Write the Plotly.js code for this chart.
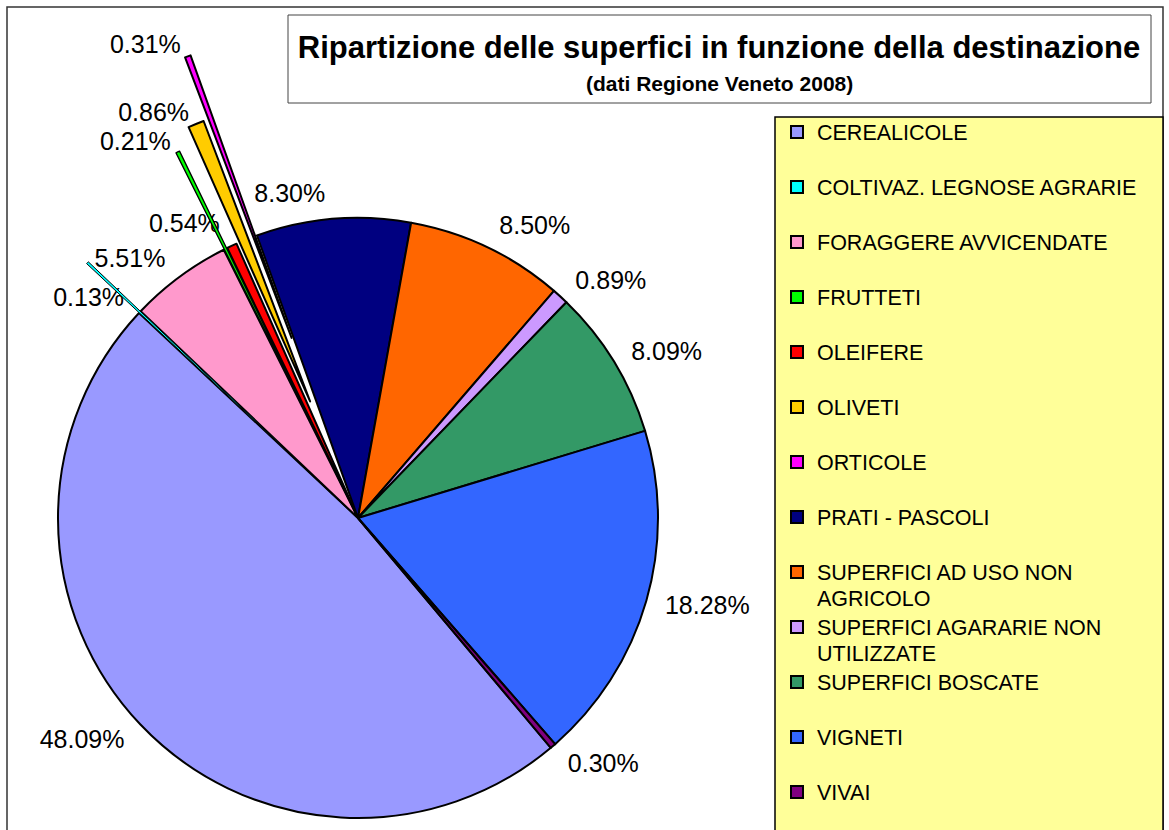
<!DOCTYPE html>
<html><head><meta charset="utf-8">
<script src="https://cdn.plot.ly/plotly-3.0.1.min.js"></script>
<style>
html,body{margin:0;padding:0;overflow:hidden;background:#fff;width:1169px;height:830px}
#chart{position:absolute;left:-40px;top:-40px;width:1249px;height:910px}
</style>
</head><body><div id="chart"></div>
<script>
// ---- data ----
const categories = [
  'CEREALICOLE',
  'COLTIVAZ. LEGNOSE AGRARIE',
  'FORAGGERE AVVICENDATE',
  'FRUTTETI',
  'OLEIFERE',
  'OLIVETI',
  'ORTICOLE',
  'PRATI - PASCOLI',
  'SUPERFICI AD USO NON<br>AGRICOLO',
  'SUPERFICI AGARARIE NON<br>UTILIZZATE',
  'SUPERFICI BOSCATE',
  'VIGNETI',
  'VIVAI'
];
const shares = [48.09, 0.13, 5.51, 0.21, 0.54, 0.86, 0.31, 8.30, 8.50, 0.89, 8.09, 18.28, 0.30];
const sliceColors = ['#9999FF','#00FFFF','#FF99CC','#00FF00','#FF0000','#FFCC00','#FF00FF',
                     '#000080','#FF6600','#CC99FF','#339966','#3366FF','#800080'];
// exploded slices (fraction of radius)
const pullOut = [0, 0.24, 0, 0.36, 0, 0.42, 0.64, 0, 0, 0, 0, 0, 0];
// labels that get their own layer (placed at the pie rim) so the automatic placement does not push them
const separateLabel = [false, true, false, false, true, false, false, false, false, false, false, false, false];
const chartTitle = 'Ripartizione delle superfici in funzione della destinazione';
const chartSubtitle = '(dati Regione Veneto 2008)';

// ---- layout geometry (window pixels) ----
const SX = 40, SY = 40;                    // plot canvas extends 40px beyond the window
const W = 1169 + 2 * SX, H = 830 + 2 * SY;
const CX = 358, CY = 518, R = 300, R_LABEL = 312, ROT = 140;
const FONT = 'Liberation Sans, Arial, Helvetica, sans-serif';
const px = x => (x + SX) / W;              // window x -> paper
const py = y => 1 - (y + SY) / H;          // window y -> paper

const total = shares.reduce((a, b) => a + b, 0);
const labelText = shares.map(v => v.toFixed(2) + '%');
const TRANSP = 'rgba(0,0,0,0)';
const lineW = shares.map(v => v < 0.15 ? 1.0 : (v < 0.25 ? 1.3 : 2));
const labelFont = { family: FONT, size: 25, color: '#000' };

function domainAt(cx, cy, r) {
  return { x: [px(cx - r), px(cx + r)], y: [py(cy + r), py(cy - r)] };
}
function pieBase() {
  return { type: 'pie', labels: categories, values: shares, sort: false,
           direction: 'clockwise', rotation: ROT, hoverinfo: 'skip', showlegend: false,
           text: labelText, textinfo: 'text', outsidetextfont: labelFont };
}
function legendLabel(c) {
  const lines = c.split('<br>').map(s => '<span style="font-size:21.5px">' + s + '</span>');
  if (lines.length < 2) lines.push('&nbsp;');
  return lines.join('<br>');
}

const traces = [];
const isPulled = pullOut.map(p => p > 0);

// legend carrier (tiny, hidden below the main pie)
traces.push(Object.assign(pieBase(), {
  labels: categories.map(legendLabel),
  marker: { colors: sliceColors, line: { color: '#000', width: 2 } },
  textinfo: 'none', showlegend: true,
  domain: domainAt(250, 600, 2)
}));

// main pie: exploded slices left empty
traces.push(Object.assign(pieBase(), {
  marker: {
    colors: sliceColors.map((c, i) => isPulled[i] ? TRANSP : c),
    line: { color: '#000', width: lineW.map((w, i) => isPulled[i] ? 0 : w) }
  },
  textposition: 'none',
  domain: domainAt(CX, CY, R)
}));

// percentage labels placed just outside the rim
const labelGroups = [shares.map((_, i) => !isPulled[i] && !separateLabel[i])];
separateLabel.forEach((s, i) => { if (s) labelGroups.push(shares.map((_, j) => j === i)); });
labelGroups.forEach(g => {
  traces.push(Object.assign(pieBase(), {
    marker: { colors: sliceColors.map(() => TRANSP), line: { width: 0 } },
    textposition: g.map(on => on ? 'outside' : 'none'),
    domain: domainAt(CX, CY, R_LABEL)
  }));
});

// each exploded slice: same pie, translated along its bisector
let cum = 0;
shares.forEach((v, i) => {
  const mid = ROT + 360 * (cum + v / 2) / total;
  cum += v;
  if (!isPulled[i]) return;
  const a = mid * Math.PI / 180;
  const dx = pullOut[i] * R * Math.sin(a), dy = -pullOut[i] * R * Math.cos(a);
  traces.push(Object.assign(pieBase(), {
    marker: {
      colors: sliceColors.map((c, j) => j === i ? c : TRANSP),
      line: { color: '#000', width: lineW.map((w, j) => j === i ? w : 0) }
    },
    textposition: shares.map((_, j) => (j === i && !separateLabel[j]) ? 'outside' : 'none'),
    domain: domainAt(CX + dx, CY + dy, R)
  }));
});

const layout = {
  width: W, height: H,
  margin: { l: 0, r: 0, t: 0, b: 0, autoexpand: false },
  paper_bgcolor: '#fff', plot_bgcolor: '#fff',
  font: { family: FONT, color: '#000' },
  title: {
    text: chartTitle, x: px(719), xref: 'paper', xanchor: 'center',
    y: py(47), yref: 'paper', yanchor: 'middle',
    font: { family: FONT, size: 31, weight: 'bold', color: '#000' }
  },
  annotations: [{
    text: chartSubtitle, showarrow: false, xref: 'paper', yref: 'paper',
    x: px(719), y: py(84), xanchor: 'center', yanchor: 'middle',
    font: { family: FONT, size: 21, weight: 'bold', color: '#000' }
  }],
  shapes: [
    { type: 'rect', xref: 'paper', yref: 'paper', x0: px(7), x1: px(1163), y0: py(860), y1: py(7),
      line: { color: '#333', width: 1.5 }, layer: 'below' },
    { type: 'rect', xref: 'paper', yref: 'paper', x0: px(288), x1: px(1151), y0: py(103), y1: py(15),
      line: { color: '#444', width: 1 }, layer: 'below' },
    { type: 'rect', xref: 'paper', yref: 'paper', x0: px(775), x1: px(1163), y0: py(860), y1: py(117),
      fillcolor: '#FFFF99', line: { color: '#000', width: 1.5 }, layer: 'below' }
  ],
  showlegend: true,
  legend: {
    x: px(777), y: py(112.5), xanchor: 'left', yanchor: 'top',
    bgcolor: 'rgba(0,0,0,0)', borderwidth: 0,
    font: { family: FONT, size: 20, color: '#000' },
    valign: 'top', traceorder: 'normal'
  },
  hovermode: false
};

Plotly.newPlot('chart', traces, layout, { displayModeBar: false, staticPlot: true });
</script>
</body></html>
